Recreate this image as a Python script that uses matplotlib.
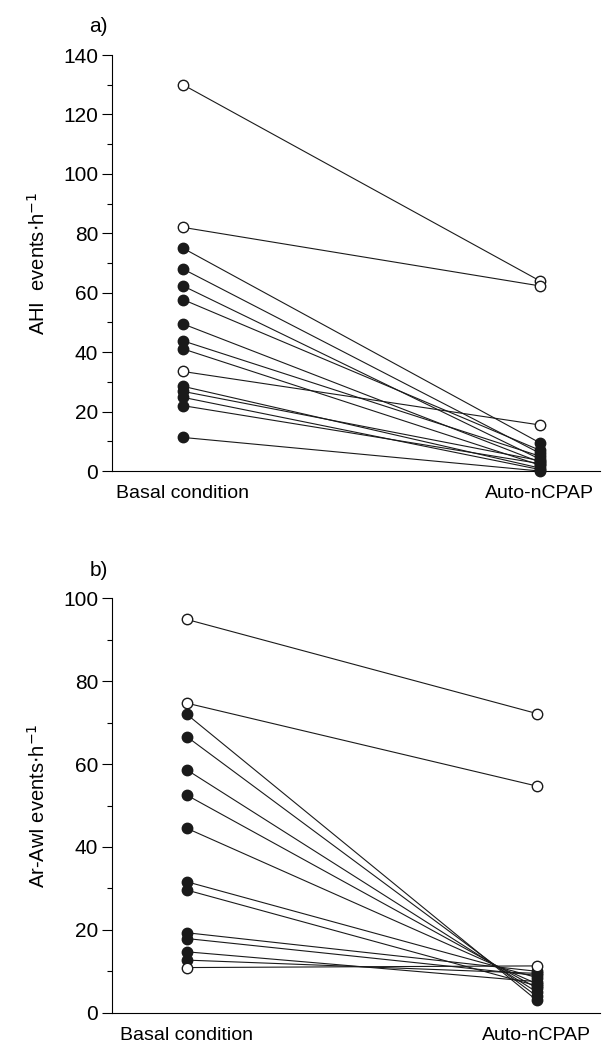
import matplotlib.pyplot as plt
from matplotlib.ticker import MultipleLocator

plt.rcParams['font.family'] = ['Liberation Sans', 'DejaVu Sans']

groups = ['Basal condition', 'Auto-nCPAP']

# panel a: AHI events/h, basal -> auto-nCPAP
ahi_filled_basal = [75, 68, 62.3, 57.7, 49.5, 43.8, 41.1, 28.5, 26.8, 24.8, 22, 11.3]
ahi_filled_auto = [9.5, 6, 4, 7, 3, 5, 2, 1, 3.5, 0.5, 2.5, 0]
ahi_open_basal = [130, 82, 33.5]
ahi_open_auto = [64, 62.3, 15.5]

# panel b: Ar-AwI events/h
ar_filled_basal = [72, 66.6, 58.6, 52.5, 44.5, 31.6, 29.6, 19.3, 17.9, 14.7, 12.7]
ar_filled_auto = [3, 4, 5, 6, 7, 8.5, 6.5, 10, 9, 7.5, 9.5]
ar_open_basal = [94.9, 74.7, 10.9]
ar_open_auto = [72.2, 54.7, 11.3]


def draw_panel(ax, fb, fa, ob, oa, ymax, ylab, letter, xlim):
    for b, a in zip(fb, fa):
        ax.plot([0, 1], [b, a], color='#1a1a1a', lw=0.8, zorder=1)
    for b, a in zip(ob, oa):
        ax.plot([0, 1], [b, a], color='#1a1a1a', lw=0.8, zorder=1)
    ax.plot([0] * len(fb), fb, 'o', ms=7.5, color='#1a1a1a', ls='none', zorder=3)
    ax.plot([1] * len(fa), fa, 'o', ms=7.5, color='#1a1a1a', ls='none', zorder=3)
    ax.plot([0] * len(ob), ob, 'o', ms=7.5, mfc='white', mec='#1a1a1a', mew=1.0, ls='none', zorder=4)
    ax.plot([1] * len(oa), oa, 'o', ms=7.5, mfc='white', mec='#1a1a1a', mew=1.0, ls='none', zorder=4)

    ax.set_xlim(*xlim)
    ax.set_ylim(0, ymax)
    ax.yaxis.set_major_locator(MultipleLocator(20))
    ax.yaxis.set_minor_locator(MultipleLocator(10))
    ax.set_xticks([0, 1])
    ax.set_xticklabels(groups, fontsize=14)
    ax.tick_params(axis='x', length=0, pad=10)
    ax.tick_params(axis='y', which='major', length=7, width=0.8, labelsize=15, pad=3)
    ax.tick_params(axis='y', which='minor', length=3.5, width=0.8)
    ax.spines['right'].set_visible(False)
    ax.spines['top'].set_visible(False)
    ax.spines['left'].set_linewidth(0.8)
    ax.spines['bottom'].set_linewidth(0.8)
    ax.set_ylabel(ylab, fontsize=14.5, labelpad=10)
    for ln in ax.lines:
        ln.set_clip_on(False)
    ax.text(-0.008, 1.045, letter, transform=ax.transAxes, fontsize=15, ha='right', va='bottom')


fig = plt.figure(figsize=(6.07, 10.46), dpi=100)

ax1 = fig.add_axes([0.1845, 0.5497, 0.8035, 0.3977])
draw_panel(ax1, ahi_filled_basal, ahi_filled_auto, ahi_open_basal, ahi_open_auto,
           140, 'AHI  events$\\cdot$h$^{-1}$', 'a)', (-0.199, 1.168))

ax2 = fig.add_axes([0.1845, 0.0318, 0.8035, 0.3962])
draw_panel(ax2, ar_filled_basal, ar_filled_auto, ar_open_basal, ar_open_auto,
           100, 'Ar-AwI events$\\cdot$h$^{-1}$', 'b)', (-0.214, 1.18))

fig.savefig('out.png', dpi=100)
